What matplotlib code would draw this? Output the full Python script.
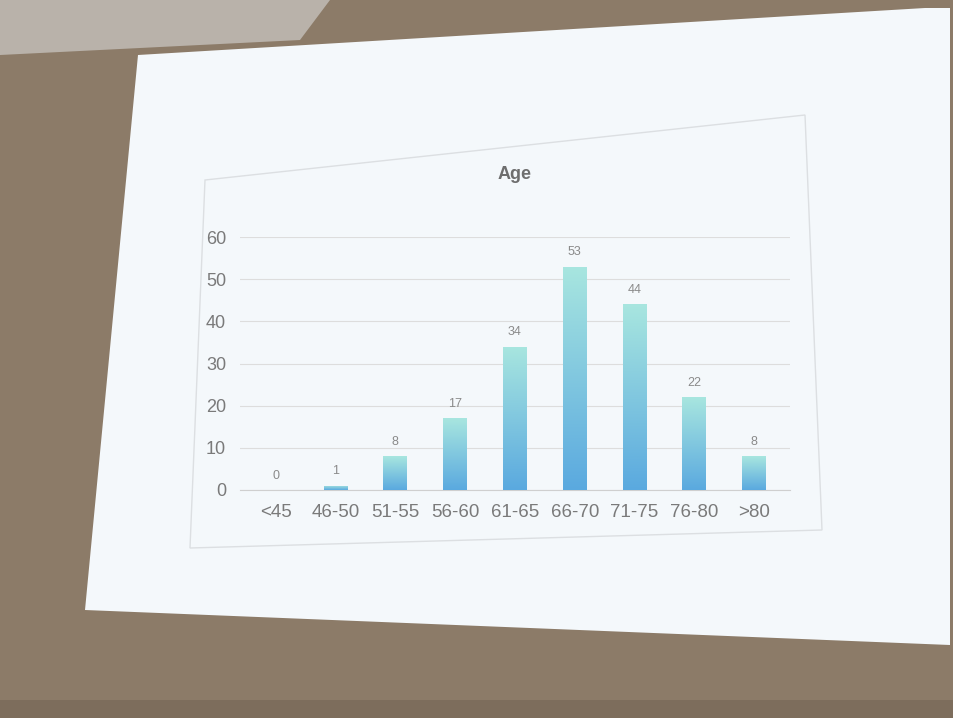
import matplotlib
matplotlib.use("Agg")
import matplotlib.pyplot as plt
import numpy as np
from matplotlib.patches import Polygon
from matplotlib.colors import LinearSegmentedColormap

categories = ["<45", "46-50", "51-55", "56-60", "61-65", "66-70", "71-75", "76-80", ">80"]
counts = [0, 1, 8, 17, 34, 53, 44, 22, 8]
yticks = [0, 10, 20, 30, 40, 50, 60]
title = "Age"

W, H = 954, 718
fig = plt.figure(figsize=(W / 100, H / 100), dpi=100)
fig.patch.set_facecolor("#8c7b68")

# background (wall + projection screen) in pixel coordinates
bg = fig.add_axes([0, 0, 1, 1])
bg.set_xlim(0, W)
bg.set_ylim(H, 0)
bg.axis("off")
bg.add_patch(Polygon([[0, 0], [330, 0], [300, 40], [0, 55]], closed=True,
                     facecolor="#b9b2aa", edgecolor="none"))
bg.add_patch(Polygon([[138, 55], [925, 8], [950, 8], [950, 645], [85, 610]],
                     closed=True, facecolor="#f4f8fb", edgecolor="none"))
bg.add_patch(Polygon([[0, 700], [954, 700], [954, 718], [0, 718]], closed=True,
                     facecolor="#7d6d5c", edgecolor="none"))
# chart frame
bg.add_patch(Polygon([[205, 180], [805, 115], [822, 530], [190, 548]], closed=True,
                     facecolor="none", edgecolor="#dcdfe2", linewidth=1.0))

ax = fig.add_axes([240 / W, 1 - 490 / H, 550 / W, 253 / H])
ax.set_facecolor("none")
x = np.arange(len(categories))
bars = ax.bar(x, counts, width=0.4, color="none", edgecolor="none", zorder=3)

grad = np.linspace(0, 1, 256).reshape(-1, 1)
cmap = LinearSegmentedColormap.from_list("g", ["#5aa9df", "#a8e6df"])
for b, v in zip(bars, counts):
    x0 = b.get_x()
    w = b.get_width()
    if v > 0:
        im = ax.imshow(grad, extent=[x0, x0 + w, 0, v], origin="lower", cmap=cmap,
                       aspect="auto", zorder=3)
        im.set_clip_path(b)
    ax.text(x0 + w / 2, v + 2, str(v), ha="center", va="bottom",
            fontsize=9, color="#8a8a8a", family="Liberation Sans")

ax.set_xlim(-0.6, len(categories) - 0.4)
ax.set_ylim(0, 60)
ax.set_yticks(yticks)
ax.set_yticklabels([str(t) for t in yticks], fontsize=13, color="#7a7a7a",
                   family="Liberation Sans")
ax.set_xticks(x)
ax.set_xticklabels(categories, fontsize=13.5, color="#7a7a7a", family="Liberation Sans")
ax.grid(axis="y", color="#dddddd", linewidth=0.8, zorder=0)
for s in ["top", "right", "left"]:
    ax.spines[s].set_visible(False)
ax.spines["bottom"].set_color("#cfcfcf")
ax.tick_params(length=0, pad=10)
ax.set_title(title, fontsize=13, fontweight="bold", color="#6e6e6e", pad=42,
             family="Liberation Sans")

fig.savefig("out.png", dpi=100, facecolor=fig.get_facecolor())
